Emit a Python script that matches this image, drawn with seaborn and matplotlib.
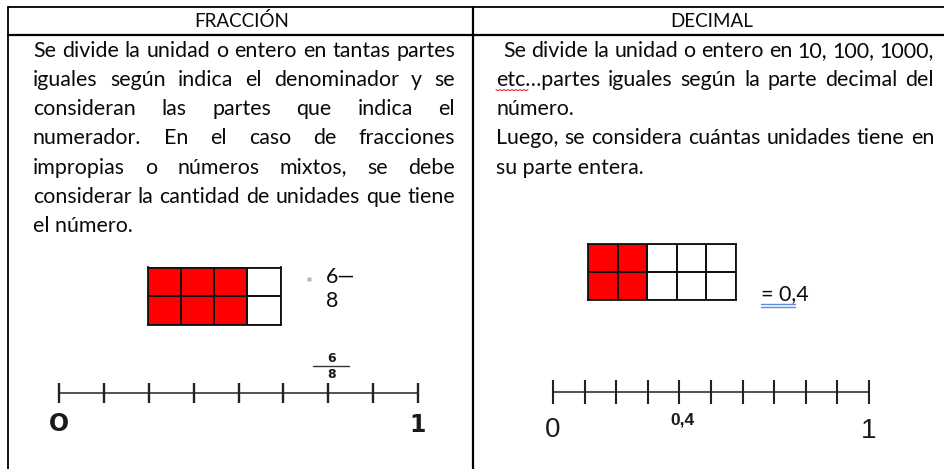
import numpy as np
import seaborn as sns
import matplotlib.pyplot as plt
from matplotlib.colors import ListedColormap

# ---- content of the table ----
headers = ['FRACCIÓN', 'DECIMAL']

frac_lines = ['Se divide la unidad o entero en tantas partes',
              'iguales según indica el denominador y se',
              'consideran las partes que indica el',
              'numerador. En el caso de fracciones',
              'impropias o números mixtos, se debe',
              'considerar la cantidad de unidades que tiene',
              'el número.']
frac_justify = [True, True, True, True, True, True, False]

dec_lines = ['Se divide la unidad o entero en 10, 100, 1000,',
             'etc…partes iguales según la parte decimal del',
             'número.',
             'Luego, se considera cuántas unidades tiene en',
             'su parte entera.']
dec_justify = [True, True, False, True, False]

# shaded parts of the unit
frac_shade = [[1, 1, 1, 0],
              [1, 1, 1, 0]]
dec_shade = [[1, 1, 0, 0, 0],
             [1, 1, 0, 0, 0]]

# number lines
frac_ticks = [0, 0.125, 0.25, 0.375, 0.5, 0.625, 0.75, 0.875, 1]
frac_num, frac_den = 6, 8
frac_value = 0.75
dec_ticks = [0, 0.1, 0.2, 0.3, 0.4, 0.5, 0.6, 0.7, 0.8, 0.9, 1]
dec_value = 0.4
dec_label = '0,4'

W, H = 944, 469
sns.set_theme(style='white')
plt.rcParams['font.family'] = ['Lato', 'DejaVu Sans']
TXT = '#0a0a0a'

fig = plt.figure(figsize=(W / 100, H / 100), dpi=100)
bg = fig.add_axes([0, 0, 1, 1])
bg.set_xlim(0, W)
bg.set_ylim(H, 0)
bg.axis('off')
renderer = fig.canvas.get_renderer()


def px_axes(x0, y0, x1, y1):
    return fig.add_axes([x0 / W, 1 - y1 / H, (x1 - x0) / W, (y1 - y0) / H])


# table borders
bg.plot([8, W], [7.5, 7.5], color='black', lw=1.3)
bg.plot([8, W], [35, 35], color='black', lw=1.6)
bg.plot([8, 8], [7.5, H], color='black', lw=1.3)
bg.plot([473, 473], [7.5, H], color='black', lw=1.6)

# find a font size so that the tightest justified line fits
def natural_width(s, size):
    t = bg.text(0, 0, s, fontsize=size)
    w = t.get_window_extent(renderer).width
    t.remove()
    return w

ratios = []
for s, j in zip(frac_lines, frac_justify):
    if j:
        ratios.append((455 - 33) / natural_width(s, 10))
for s, j, x0 in zip(dec_lines, dec_justify, [503, 496, 496, 496, 496]):
    if j:
        ratios.append((934 - x0) / natural_width(s, 10))
fs = 10 * min(ratios)


def draw_line(s, x0, x1, y, justify):
    if not justify:
        bg.text(x0, y, s, fontsize=fs, color=TXT, va='baseline')
        return
    words = s.split(' ')
    arts = [bg.text(0, y, w, fontsize=fs, color=TXT, va='baseline') for w in words]
    widths = [a.get_window_extent(renderer).width for a in arts]
    gap = (x1 - x0 - sum(widths)) / (len(words) - 1)
    x = x0
    for a, w in zip(arts, widths):
        a.set_x(x)
        x += w + gap


bg.text(242, 27, headers[0], fontsize=fs * 0.88, color=TXT, ha='center', va='baseline')
bg.text(712, 27, headers[1], fontsize=fs * 0.88, color=TXT, ha='center', va='baseline')

for i, (s, j) in enumerate(zip(frac_lines, frac_justify)):
    draw_line(s, 33, 455, 56.7 + i * 29.2, j)
for i, (s, j) in enumerate(zip(dec_lines, dec_justify)):
    draw_line(s, 503 if i == 0 else 496, 934, 56.7 + i * 29.2, j)

# spell-check squiggle under "etc"
sq_x = np.linspace(496, 528, 17)
bg.plot(sq_x, 89.5 + 1.3 * (np.arange(17) % 2), color='#e03030', lw=0.8)

# unit grids
cmap = ListedColormap(['white', '#ff0000'])
for shade, box in [(frac_shade, (147.5, 267.5, 280.5, 324.5)),
                   (dec_shade, (588, 244, 736, 300))]:
    axg = px_axes(*box)
    sns.heatmap(shade, ax=axg, cmap=cmap, vmin=0, vmax=1, cbar=False,
                linewidths=1.2, linecolor='#111111',
                xticklabels=False, yticklabels=False)
    for sp in axg.spines.values():
        sp.set_visible(True)
        sp.set_color('#111111')
        sp.set_linewidth(1.3)

# fraction written next to the grid
bg.plot([309], [279], marker='s', ms=2.5, color='#b5b5b5', mec='none')
bg.text(326, 283, f'{frac_num}—', fontsize=fs, color=TXT, va='baseline')
bg.text(326, 307, f'{frac_den}', fontsize=fs, color=TXT, va='baseline')

# decimal written next to the grid
bg.text(761, 300, f'= {dec_label}', fontsize=fs, color=TXT, va='baseline')
bg.plot([761, 795], [304, 304], color='#5b8de0', lw=1.0)
bg.plot([761, 795], [306.7, 306.7], color='#5b8de0', lw=1.0)

# number line: fraction
axn = px_axes(59, 373, 418, 413)
axn.set_xlim(0, 1)
axn.set_ylim(-2, 2)
axn.axis('off')
axn.plot([0, 1], [0, 0], color='#444444', lw=1.3, clip_on=False)
axn.vlines(frac_ticks, -1, 1, color='#222222', lw=1.7, clip_on=False)
bold = dict(family='DejaVu Sans', fontweight='bold', color='#1a1a1a', va='baseline', ha='center')
axn.text(0, -3.75, 'O', fontsize=17, **bold)
axn.text(1, -3.9, '1', fontsize=17, **bold)
axn.text(frac_value + 0.008, 3.15, str(frac_num), fontsize=9, **bold)
axn.text(frac_value + 0.008, 1.5, str(frac_den), fontsize=9, **bold)
axn.plot([frac_value - 0.042, frac_value + 0.058], [2.75, 2.75], color='#333333', lw=1.0, clip_on=False)

# number line: decimal
axd = px_axes(553, 372, 869, 412)
axd.set_xlim(0, 1)
axd.set_ylim(-2, 2)
axd.axis('off')
axd.plot([0, 1], [0, 0], color='#444444', lw=1.3, clip_on=False)
axd.vlines(dec_ticks, -1.2, 1.2, color='#222222', lw=1.5, clip_on=False)
plain = dict(family='Liberation Sans', color='#1a1a1a', va='baseline', ha='center')
axd.text(0, -4.5, '0', fontsize=20, **plain)
axd.text(1, -4.6, '1', fontsize=20, **plain)
axd.text(dec_value + 0.01, -3.25, dec_label, fontsize=12.5, fontweight='bold', **plain)

fig.savefig('out.png', dpi=100)
